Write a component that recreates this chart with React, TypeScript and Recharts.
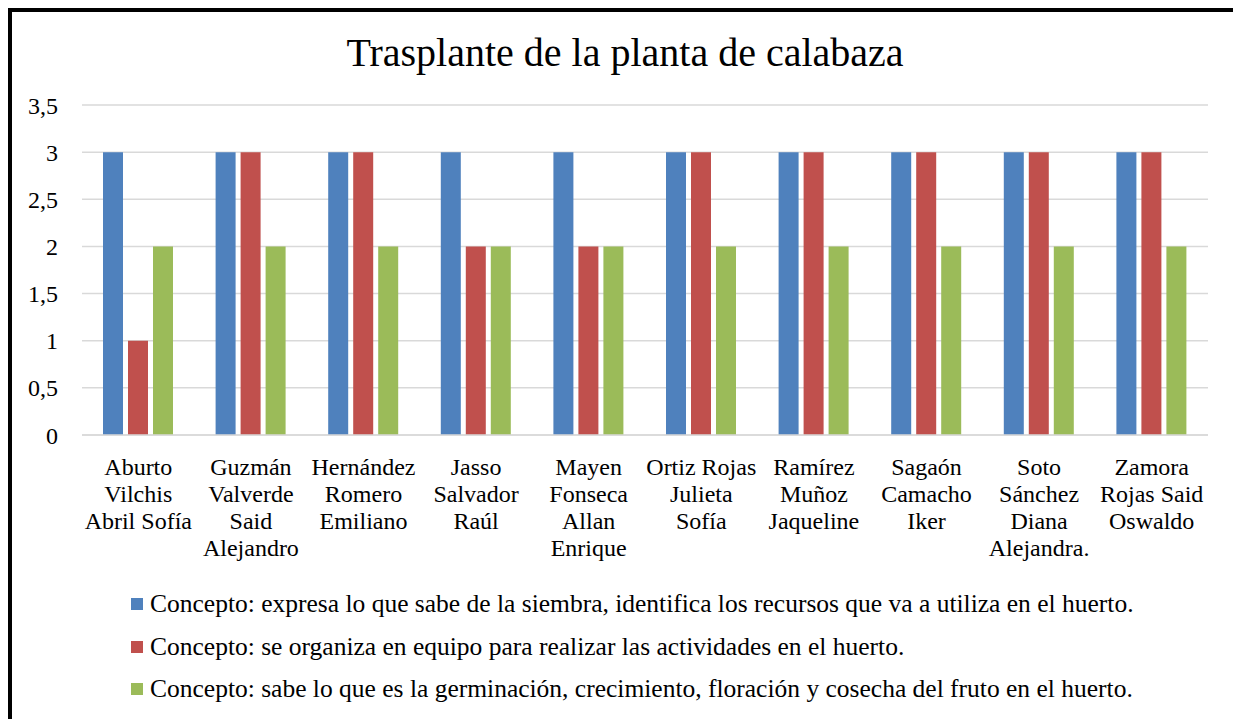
import React from 'react'
import { BarChart, Bar, CartesianGrid, XAxis, YAxis, Legend } from 'recharts'

const students = [
    'Aburto|Vilchis|Abril Sofía',
    'Guzmán|Valverde|Said|Alejandro',
    'Hernández|Romero|Emiliano',
    'Jasso|Salvador|Raúl',
    'Mayen|Fonseca|Allan|Enrique',
    'Ortiz Rojas|Julieta|Sofía',
    'Ramírez|Muñoz|Jaqueline',
    'Sagaón|Camacho|Iker',
    'Soto|Sánchez|Diana|Alejandra.',
    'Zamora|Rojas Said|Oswaldo',
]

const conceptoSiembra = [3, 3, 3, 3, 3, 3, 3, 3, 3, 3]
const conceptoEquipo = [1, 3, 3, 2, 2, 3, 3, 3, 3, 3]
const conceptoGerminacion = [2, 2, 2, 2, 2, 2, 2, 2, 2, 2]

const yTicks = [0, 0.5, 1, 1.5, 2, 2.5, 3, 3.5]

const seriesNames = [
    'Concepto: expresa lo que sabe de la siembra, identifica los recursos que va a utiliza en el huerto.',
    'Concepto: se organiza en equipo para realizar las actividades en el huerto.',
    'Concepto: sabe lo que es la germinación, crecimiento, floración y cosecha del fruto en el huerto.',
]

const FONT = '"Liberation Serif", "Times New Roman", serif'

const data = students.map((name, i) => ({
    name,
    siembra: conceptoSiembra[i],
    equipo: conceptoEquipo[i],
    germinacion: conceptoGerminacion[i],
}))

const NameTick = ({ x, y, payload }: any) => {
    const lines = String(payload.value).split('|')
    return (
        <text x={x} y={y} textAnchor="middle" fill="#000" fontSize={24} fontFamily={FONT}>
            {lines.map((l, i) => (
                <tspan key={i} x={x} y={y + 32 + i * 27}>{l}</tspan>
            ))}
        </text>
    )
}

// keep legend rows in series order (recharts sorts them by name otherwise)
const LegendRows = ({ payload }: any) => {
    const items = [...(payload || [])].sort((a: any, b: any) => seriesNames.indexOf(a.value) - seriesNames.indexOf(b.value))
    return (
        <div style={{ fontFamily: FONT, fontSize: 25.5, color: '#000' }}>
            {items.map((p: any) => (
                <div key={p.value} style={{ display: 'flex', alignItems: 'center', height: 42.5, whiteSpace: 'nowrap' }}>
                    <span style={{ width: 12, height: 12, background: p.color, marginRight: 7, display: 'inline-block' }} />
                    <span>{p.value}</span>
                </div>
            ))}
        </div>
    )
}

export default function App() {
    return (
        <div style={{ position: 'absolute', left: 0, top: 0, width: 1233, height: 719, overflow: 'hidden', background: '#fff' }}>
            <div style={{ position: 'absolute', left: 8, top: 8, width: 1300, height: 800, borderTop: '4px solid #000', borderLeft: '4px solid #000' }} />
            <div style={{ position: 'absolute', left: 0, top: 0 }}>
                <BarChart width={1233} height={719} data={data} margin={{ top: 105, right: 25, left: 0, bottom: 244 }} barSize={20} barGap={5}>
                    <text x={625} y={66} textAnchor="middle" fontFamily={FONT} fontSize={40} fill="#000">
                        Trasplante de la planta de calabaza
                    </text>
                    <CartesianGrid vertical={false} stroke="#D9D9D9" strokeWidth={1.5} />
                    <XAxis dataKey="name" tick={<NameTick />} tickLine={false} axisLine={{ stroke: '#D9D9D9', strokeWidth: 1.5 }} height={40} interval={0} />
                    <YAxis
                        domain={[0, 3.5]}
                        ticks={yTicks}
                        width={82}
                        tickLine={false}
                        axisLine={false}
                        tickSize={0}
                        tickMargin={24}
                        tick={{ fill: '#000', fontSize: 24, fontFamily: FONT }}
                        tickFormatter={(v: number) => String(v).replace('.', ',')}
                    />
                    <Legend
                        layout="vertical"
                        align="center"
                        verticalAlign="middle"
                        content={<LegendRows />}
                        wrapperStyle={{ left: 131, top: 583, width: 1100 }}
                    />
                    <Bar dataKey="siembra" name={seriesNames[0]} fill="#4F81BD" isAnimationActive={false} />
                    <Bar dataKey="equipo" name={seriesNames[1]} fill="#C0504D" isAnimationActive={false} />
                    <Bar dataKey="germinacion" name={seriesNames[2]} fill="#9BBB59" isAnimationActive={false} />
                </BarChart>
            </div>
        </div>
    )
}
